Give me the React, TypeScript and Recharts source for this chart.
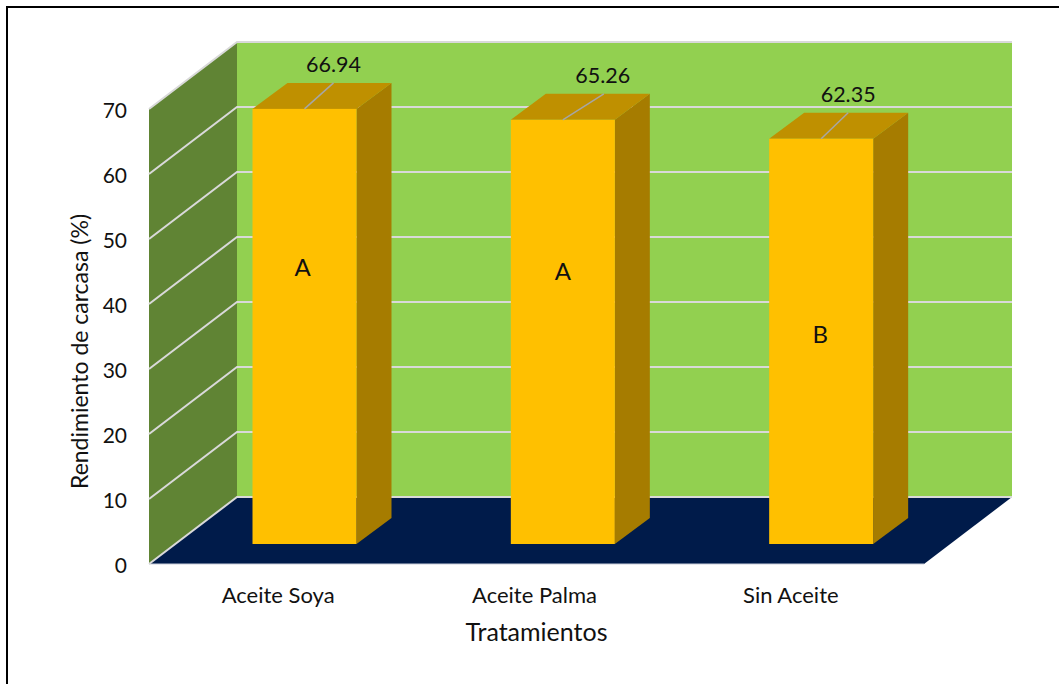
import { Bar, BarChart, CartesianGrid, Label, XAxis, YAxis } from "recharts";

const categories = ["Aceite Soya", "Aceite Palma", "Sin Aceite"];
const values = [66.94, 65.26, 62.35];
const groups = ["A", "A", "B"];
const yTicks = [0, 10, 20, 30, 40, 50, 60, 70];

const data = categories.map((name, i) => ({ name, value: values[i], group: groups[i] }));

const FONT = "Lato, sans-serif";
const TEXT = "#111111";

// plot box of the front plane, and how far back the walls sit
const LEFT = 149;
const TOP = 109;
const PLOT_W = 775;
const PLOT_H = 455;
const DEPTH_X = 88;
const DEPTH_Y = 67;

// the bars stand partway into the floor
const BAR_SHIFT_X = 26.5;
const BAR_SHIFT_Y = 20;
const BAR_DEPTH_X = 35;
const BAR_DEPTH_Y = 26;

// where the callouts and group letters land, per bar
const leaderDx = [29, 41, 27];
const labelDx = [29, 40, 27];
const letterDrop = [158, 151, 195];
const letterDx = [-2, 0, -1];

// drawn under the chart's svg so the grid lines stay on top
function Walls() {
  const right = LEFT + PLOT_W;
  const bottom = TOP + PLOT_H;
  const backX = LEFT + DEPTH_X;
  const backBottom = bottom - DEPTH_Y;
  const backTop = TOP - DEPTH_Y;
  return (
    <svg width={1059} height={684} style={{ position: "absolute", left: 0, top: 0 }}>
      <polygon
        points={`${backX},${backTop} ${right + DEPTH_X},${backTop} ${right + DEPTH_X},${backBottom} ${backX},${backBottom}`}
        fill="#92D050"
      />
      <polygon
        points={`${LEFT},${TOP} ${backX},${backTop} ${backX},${backBottom} ${LEFT},${bottom}`}
        fill="#608434"
      />
      <polygon
        points={`${LEFT},${bottom} ${backX},${backBottom} ${right + DEPTH_X},${backBottom} ${right},${bottom}`}
        fill="#001B4A"
      />
      <line x1={LEFT} y1={bottom} x2={right} y2={bottom} stroke="#C9CEDA" strokeWidth={1} />
    </svg>
  );
}

function gridLine(props: any) {
  const { x1, x2, y1 } = props;
  return (
    <path
      key={props.key ?? y1}
      d={`M${x1},${y1} L${x1 + DEPTH_X},${y1 - DEPTH_Y} L${x2 + DEPTH_X},${y1 - DEPTH_Y}`}
      fill="none"
      stroke="#D9D9D9"
      strokeWidth={2}
    />
  );
}

function Bar3D(props: any) {
  const { x, y, width, height, index, payload } = props;
  const fx = x + BAR_SHIFT_X;
  const fy = y - BAR_SHIFT_Y;
  const bx = fx + width;
  const cx = fx + width / 2;
  return (
    <g>
      <polygon
        points={`${bx},${fy} ${bx + BAR_DEPTH_X},${fy - BAR_DEPTH_Y} ${bx + BAR_DEPTH_X},${fy + height - BAR_DEPTH_Y} ${bx},${fy + height}`}
        fill="#A67C00"
      />
      <polygon
        points={`${fx},${fy} ${fx + BAR_DEPTH_X},${fy - BAR_DEPTH_Y} ${bx + BAR_DEPTH_X},${fy - BAR_DEPTH_Y} ${bx},${fy}`}
        fill="#BF9000"
      />
      <rect x={fx} y={fy} width={width} height={height} fill="#FFC000" />
      <line
        x1={cx}
        y1={fy}
        x2={cx + leaderDx[index]}
        y2={fy - BAR_DEPTH_Y}
        stroke="#A6A6A6"
        strokeWidth={1.5}
      />
      <text
        x={cx + labelDx[index]}
        y={fy - 45}
        textAnchor="middle"
        dominantBaseline="central"
        fontFamily={FONT}
        fontSize={21.5}
        fill={TEXT}
      >
        {payload.value}
      </text>
      <text
        x={cx + letterDx[index]}
        y={fy + letterDrop[index]}
        textAnchor="middle"
        dominantBaseline="central"
        fontFamily={FONT}
        fontSize={24}
        fill={TEXT}
      >
        {payload.group}
      </text>
    </g>
  );
}

function CategoryTick(props: any) {
  const { x, y, payload, index } = props;
  return (
    <text
      x={x - index * 2}
      y={y - 1}
      dy="0.71em"
      textAnchor="middle"
      fontFamily={FONT}
      fontSize={22}
      fill={TEXT}
    >
      {payload.value}
    </text>
  );
}

export default function App() {
  return (
    <div
      style={{
        position: "absolute",
        left: 0,
        top: 0,
        width: 1059,
        height: 684,
        background: "#fff",
        overflow: "hidden",
      }}
    >
      <div
        style={{
          position: "absolute",
          left: 6,
          top: 6,
          right: 0,
          bottom: 0,
          borderLeft: "2px solid #000",
          borderTop: "2px solid #000",
        }}
      />
      <Walls />
      <BarChart
        width={1059}
        height={684}
        data={data}
        margin={{ left: 69, top: TOP, right: 1059 - LEFT - PLOT_W, bottom: 684 - TOP - PLOT_H - 60 }}
        style={{ position: "absolute", left: 0, top: 0 }}
      >
        <CartesianGrid vertical={false} horizontal={gridLine} syncWithTicks />
        <XAxis
          dataKey="name"
          height={60}
          axisLine={false}
          tickLine={false}
          tickMargin={18}
          interval={0}
          tick={CategoryTick}
        >
          <Label
            value="Tratamientos"
            position="insideBottom"
            offset={-17}
            style={{ fontFamily: FONT, fontSize: 25, fill: TEXT }}
          />
        </XAxis>
        <YAxis
          width={80}
          domain={[0, 70]}
          ticks={yTicks}
          interval={0}
          axisLine={false}
          tickLine={false}
          tickSize={0}
          tickMargin={22}
          tick={{ fontFamily: FONT, fontSize: 21, fill: TEXT, dy: 2 }}
        >
          <Label
            value="Rendimiento de carcasa (%)"
            angle={-90}
            position="insideLeft"
            dx={6}
            dy={15}
            style={{ textAnchor: "middle", fontFamily: FONT, fontSize: 23, fill: TEXT }}
          />
        </YAxis>
        <Bar dataKey="value" barSize={104} isAnimationActive={false} shape={Bar3D} />
      </BarChart>
    </div>
  );
}
